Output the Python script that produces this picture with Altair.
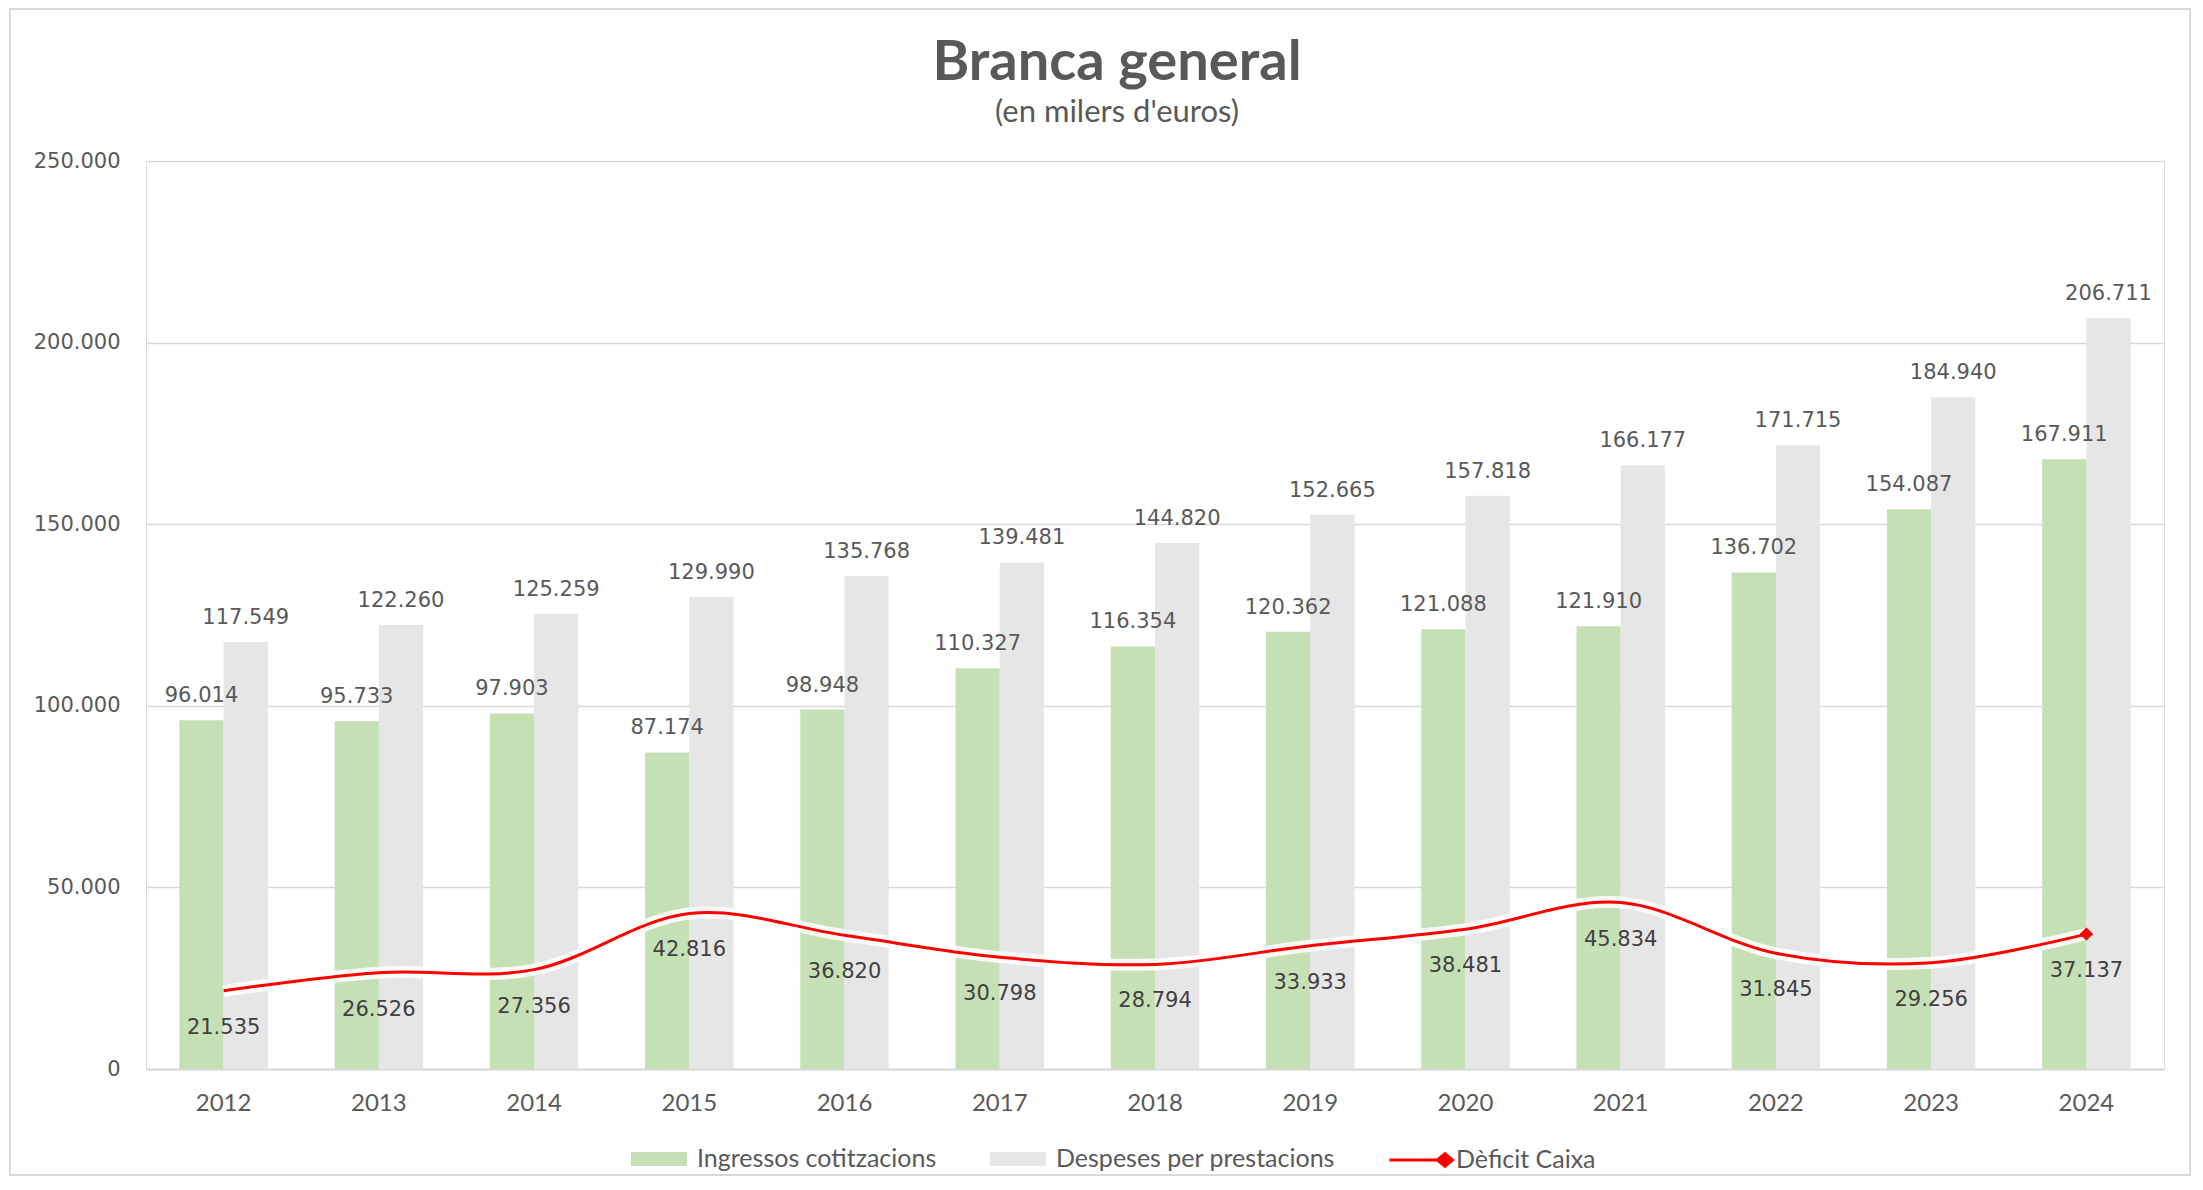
import altair as alt
import pandas as pd

years = ["2012", "2013", "2014", "2015", "2016", "2017", "2018",
         "2019", "2020", "2021", "2022", "2023", "2024"]
ingressos = [96014, 95733, 97903, 87174, 98948, 110327, 116354,
             120362, 121088, 121910, 136702, 154087, 167911]
despeses = [117549, 122260, 125259, 129990, 135768, 139481, 144820,
            152665, 157818, 166177, 171715, 184940, 206711]
deficit = [21535, 26526, 27356, 42816, 36820, 30798, 28794,
           33933, 38481, 45834, 31845, 29256, 37137]
bar_series = ["Ingressos cotitzacions", "Despeses per prestacions"]
line_series = "Dèficit Caixa"
y_ticks = [0, 50000, 100000, 150000, 200000, 250000]


def fmt(v):
    return f"{v:,}".replace(",", ".")


bars_df = pd.DataFrame({
    "year": years * 2,
    "series": [bar_series[0]] * len(years) + [bar_series[1]] * len(years),
    "value": ingressos + despeses,
})
bars_df["label"] = bars_df["value"].map(fmt)

line_df = pd.DataFrame({"year": years, "series": line_series, "value": deficit})
line_df["label"] = line_df["value"].map(fmt)
last_df = line_df.iloc[[-1]]

W, H = 2018, 908
GREY = "#595959"

x_enc = alt.X(
    "year:N", sort=years, title=None,
    scale=alt.Scale(paddingInner=0.43, paddingOuter=0.215),
    axis=alt.Axis(labelAngle=0, domain=True, domainColor="#D9D9D9", domainWidth=2,
                  ticks=False, tickSize=0, grid=False, labelFont="Lato",
                  labelFontSize=24, labelColor=GREY, labelPadding=22,
                  labelBaseline="top"),
)
y_enc = alt.Y(
    "value:Q", title=None,
    scale=alt.Scale(domain=[0, 250000], nice=False),
    axis=alt.Axis(values=y_ticks, grid=True, gridColor="#D9D9D9", gridWidth=1.5,
                  domain=False, ticks=False, tickSize=0,
                  labelExpr="replace(format(datum.value, ','), ',', '.')",
                  labelFont="DejaVu Sans", labelFontSize=21, labelColor=GREY,
                  labelPadding=26),
)
x_off = alt.XOffset("series:N", sort=bar_series,
                    scale=alt.Scale(domain=bar_series, paddingInner=0, paddingOuter=0))

bars = alt.Chart(bars_df).mark_bar().encode(
    x=x_enc, y=y_enc, xOffset=x_off,
    fill=alt.Fill(
        "series:N", sort=bar_series,
        scale=alt.Scale(domain=bar_series, range=["#C5E0B4", "#E7E6E6"]),
        legend=alt.Legend(
            title=None, orient="none", direction="horizontal",
            legendX=485, legendY=970,
            symbolType="M-1,-0.25H1V0.25H-1Z", symbolSize=3136,
            symbolStrokeWidth=0, labelFont="Lato", labelFontSize=25,
            labelColor=GREY, labelOffset=10, columnPadding=53, labelLimit=0,
        ),
    ),
)

bar_labels = alt.Chart(bars_df).mark_text(
    baseline="alphabetic", dy=-18, font="DejaVu Sans", fontSize=21, color=GREY
).encode(x=x_enc, y=y_enc, xOffset=x_off, text="label:N")

glow = alt.Chart(line_df).mark_line(
    interpolate="cardinal", stroke="white", strokeWidth=12, opacity=0.85
).encode(x=x_enc, y=y_enc)

line = alt.Chart(line_df).mark_line(interpolate="cardinal", strokeWidth=3).encode(
    x=x_enc, y=y_enc,
    stroke=alt.Stroke(
        "series:N",
        scale=alt.Scale(domain=[line_series], range=["#FF0000"]),
        legend=alt.Legend(
            title=None, orient="none", direction="horizontal",
            legendX=1242, legendY=966,
            symbolType="M-1,0L0.52,0M0.52,0L0.76,-0.2L1,0L0.76,0.2Z",
            symbolSize=3969, symbolStrokeWidth=3, symbolFillColor="#FF0000",
            labelFont="Lato", labelFontSize=25, labelColor=GREY, labelOffset=2,
            labelLimit=0,
        ),
    ),
)

marker = alt.Chart(last_df).mark_point(
    shape="diamond", filled=True, color="#FF0000", size=180, opacity=1
).encode(x=x_enc, y=y_enc)

line_labels = alt.Chart(line_df).mark_text(
    baseline="alphabetic", dy=43, font="DejaVu Sans", fontSize=21, color="#404040"
).encode(x=x_enc, y=y_enc, text="label:N")

border = alt.Chart(pd.DataFrame({"b": [0]})).mark_rect(
    fill="transparent", stroke="#D9D9D9", strokeWidth=2
).encode(x=alt.value(-136), x2=alt.value(2044), y=alt.value(-152), y2=alt.value(1014))

chart = alt.layer(
    border, bars, bar_labels, glow, line, marker, line_labels
).properties(
    width=W, height=H,
    autosize=alt.AutoSizeParams(type="none"),
    padding={"left": 138, "top": 153, "right": 30, "bottom": 110},
    title=alt.Title(
        "Branca general", subtitle="(en milers d'euros)",
        font="Lato", fontSize=56, fontWeight="bold", color=GREY,
        subtitleFont="Lato", subtitleFontSize=31, subtitleColor=GREY,
        subtitlePadding=6, anchor="middle", dx=-38, offset=-121,
    ),
).configure_view(stroke=None).configure(background="white")

chart.save("out.html", embed_options={"renderer": "svg", "actions": False})
